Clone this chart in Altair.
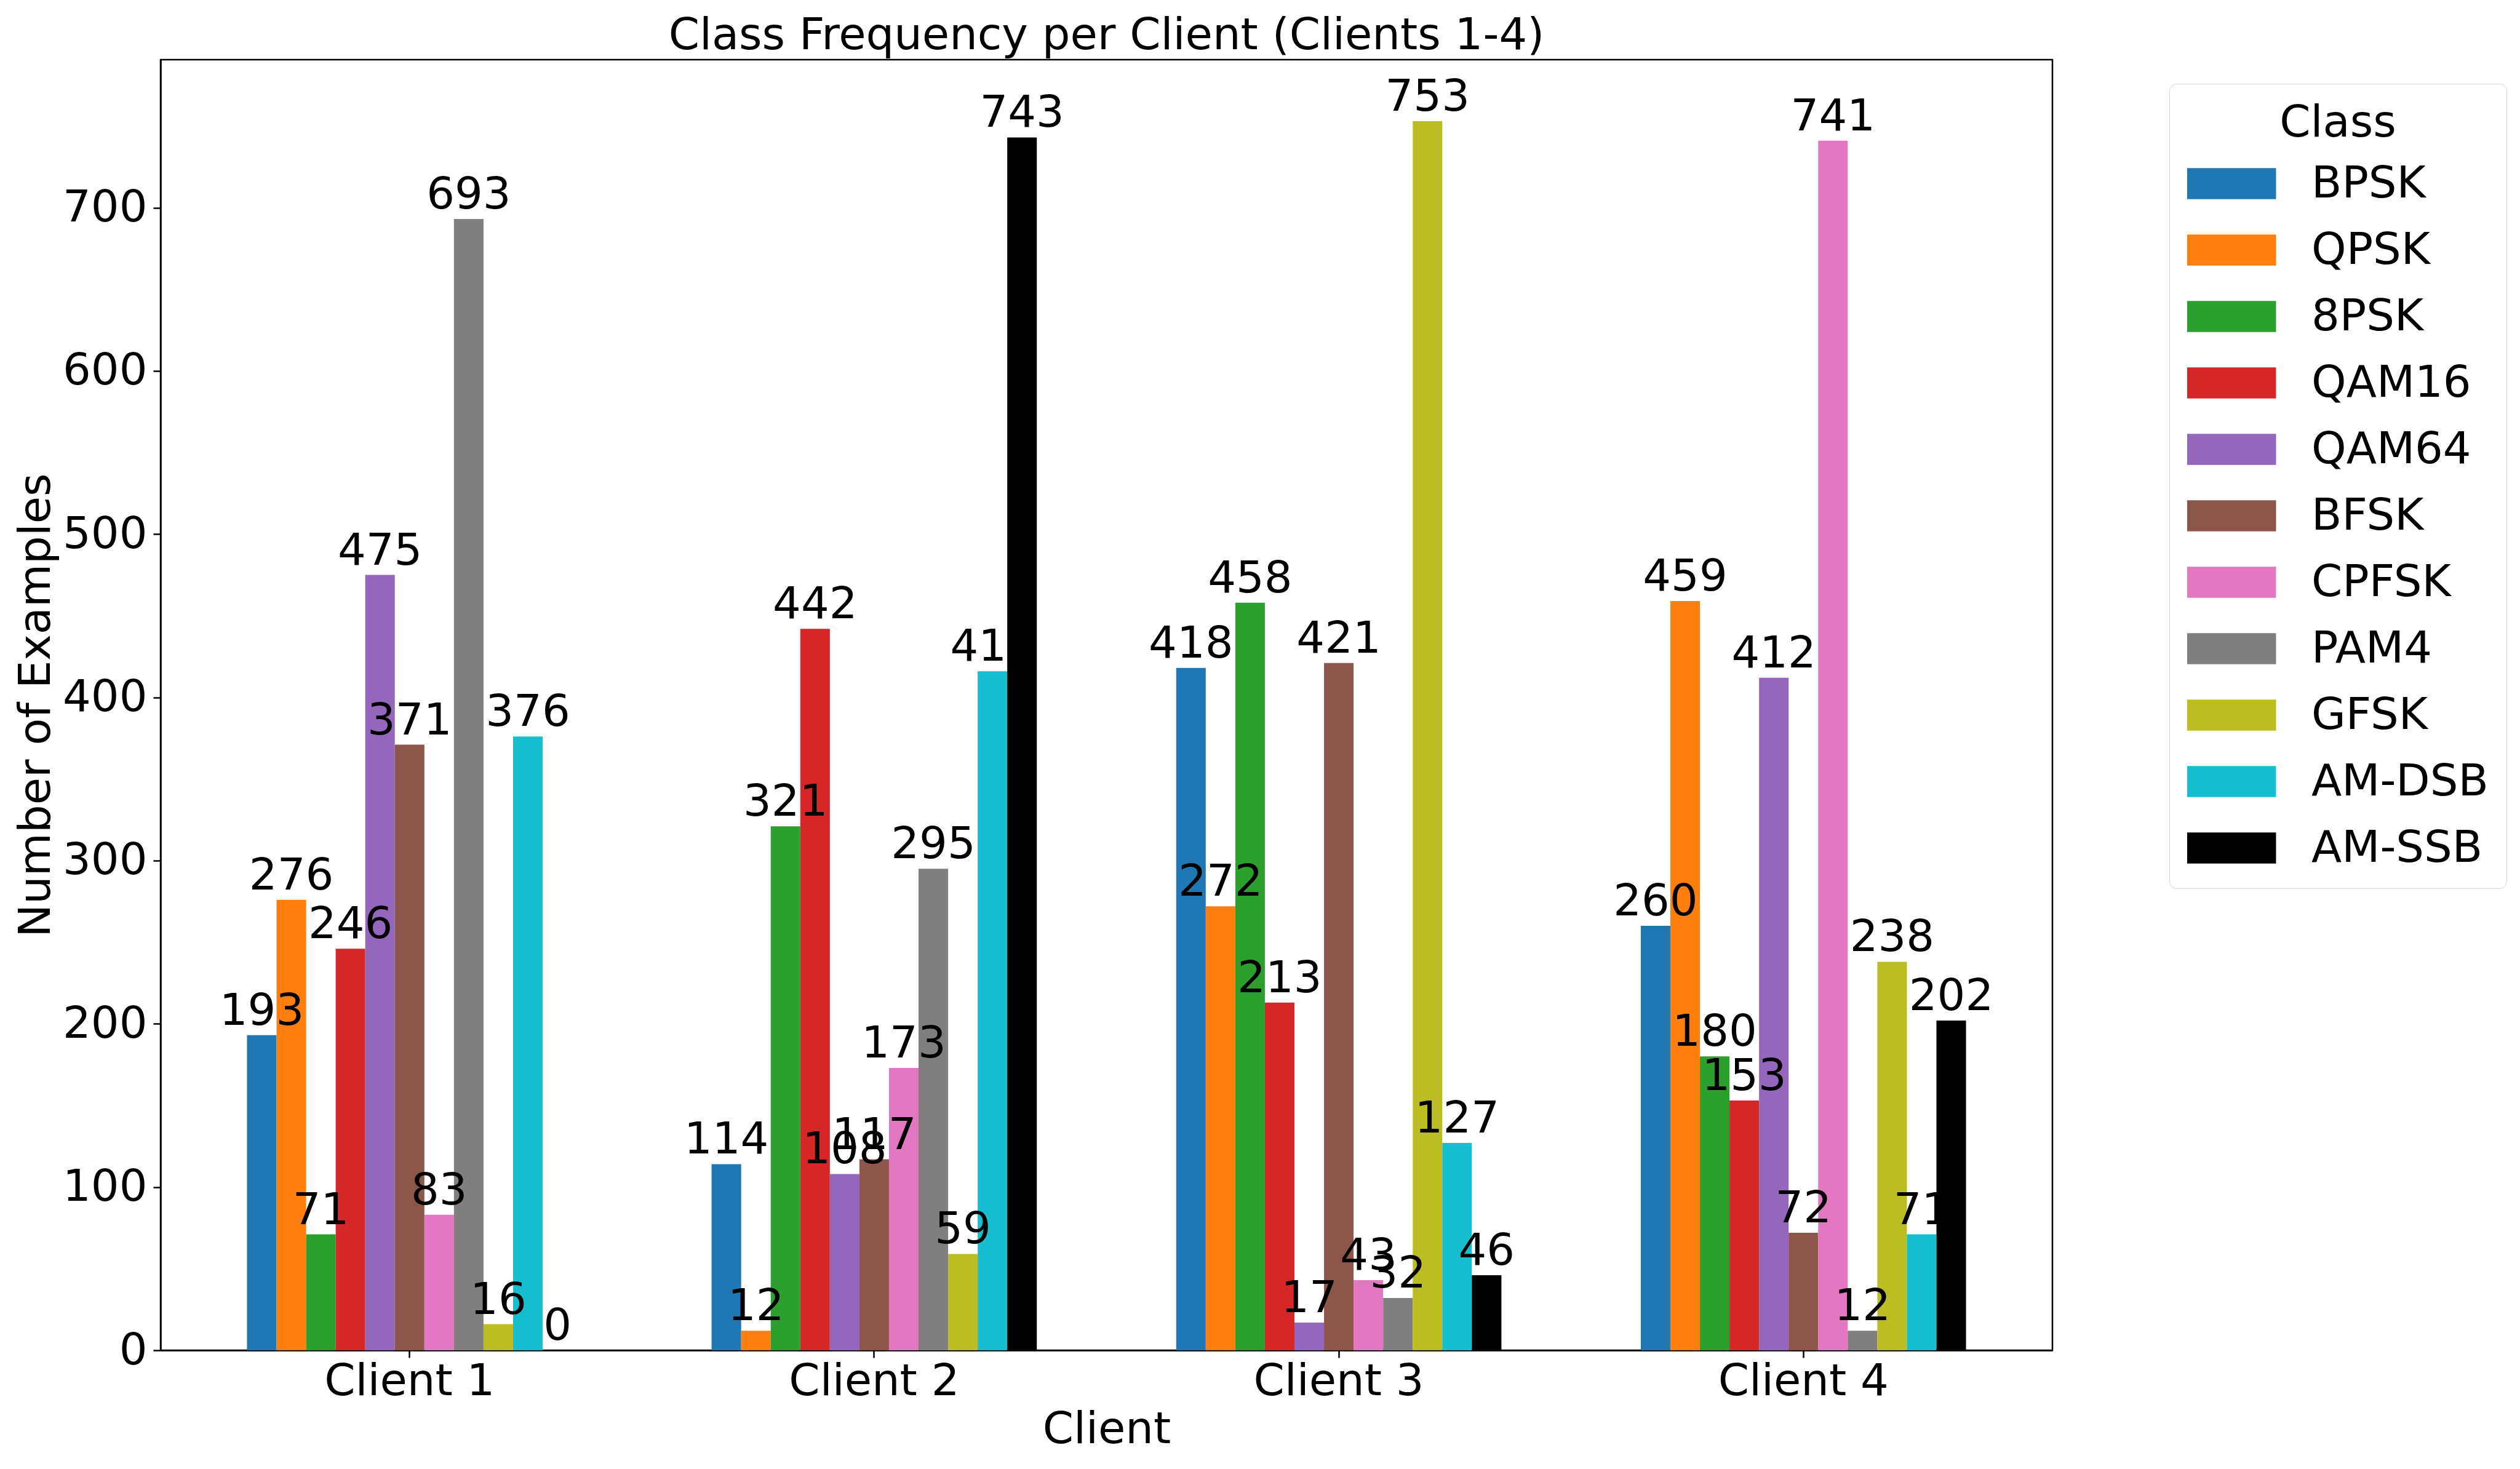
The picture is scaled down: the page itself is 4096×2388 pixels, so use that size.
import altair as alt
import pandas as pd

clients = ["Client 1", "Client 2", "Client 3", "Client 4"]
classes = ["BPSK", "QPSK", "8PSK", "QAM16", "QAM64", "BFSK", "CPFSK",
           "PAM4", "GFSK", "AM-DSB", "AM-SSB"]
colors = ["#1f77b4", "#ff7f0e", "#2ca02c", "#d62728", "#9467bd", "#8c564b",
          "#e377c2", "#7f7f7f", "#bcbd22", "#17becf", "#000000"]

client1 = [193, 276, 71, 246, 475, 371, 83, 693, 16, 376, 0]
client2 = [114, 12, 321, 442, 108, 117, 173, 295, 59, 416, 743]
client3 = [418, 272, 458, 213, 17, 421, 43, 32, 753, 127, 46]
client4 = [260, 459, 180, 153, 412, 72, 741, 12, 238, 71, 202]

y_ticks = [0, 100, 200, 300, 400, 500, 600, 700]

rows = []
for cl, vals in zip(clients, [client1, client2, client3, client4]):
    for k, v in zip(classes, vals):
        rows.append({"Client": cl, "Class": k, "Count": v})
df = pd.DataFrame(rows)

FONT = "DejaVu Sans"
FS = 72

x_enc = alt.X(
    "Client:N", sort=clients,
    scale=alt.Scale(domain=clients, paddingInner=0.3, paddingOuter=0.186),
    axis=alt.Axis(labelAngle=0, labelFontSize=FS, labelFont=FONT, labelColor="black",
                  labelBaseline="alphabetic", labelPadding=60, labelLimit=2000,
                  tickSize=12, tickWidth=2.5, tickColor="black",
                  domainColor="black", domainWidth=2.5,
                  titleFontSize=FS, titleFont=FONT, titleFontWeight="normal",
                  titleColor="black", titleBaseline="alphabetic", titleY=150,
                  titleLimit=2000),
    title="Client")
xo_enc = alt.XOffset("Class:N", sort=classes,
                     scale=alt.Scale(domain=classes, paddingInner=0, paddingOuter=0))
y_enc = alt.Y(
    "Count:Q",
    scale=alt.Scale(domain=[0, 790.65], nice=False, zero=True),
    axis=alt.Axis(values=y_ticks, grid=False, labelFontSize=FS, labelFont=FONT,
                  labelColor="black", labelPadding=10, labelLimit=2000,
                  tickSize=12, tickWidth=2.5, tickColor="black",
                  domainColor="black", domainWidth=2.5,
                  titleFontSize=FS, titleFont=FONT, titleFontWeight="normal",
                  titleColor="black", titleBaseline="alphabetic", titleX=-181,
                  titleLimit=3000),
    title="Number of Examples")
legend = alt.Legend(
    title="Class", orient="none", legendX=3265, legendY=39, direction="vertical",
    titleFontSize=FS, titleFont=FONT, titleFontWeight="normal", titleColor="black",
    titleAnchor="middle", titlePadding=8, titleLimit=2000,
    labelFontSize=FS, labelFont=FONT, labelColor="black", labelOffset=95, labelLimit=2000,
    symbolType="M-1,-0.47H1.7V0.47H-1Z", symbolSize=11449, symbolStrokeWidth=0,
    symbolOpacity=1, rowPadding=18, padding=29,
    strokeColor="#d6d6d6", fillColor="white", cornerRadius=12)
color_enc = alt.Color("Class:N", sort=classes,
                      scale=alt.Scale(domain=classes, range=colors), legend=legend)

last = classes[-1]
bars_main = alt.Chart().mark_bar(opacity=1, strokeWidth=0).encode(
    x=x_enc, xOffset=xo_enc, y=y_enc, color=color_enc
).transform_filter(alt.datum.Class != last)
labels = alt.Chart().mark_text(
    fontSize=FS, font=FONT, color="black", baseline="alphabetic", dy=-17, align="center"
).encode(
    x=x_enc, xOffset=xo_enc, y=y_enc, text=alt.Text("Count:Q")
)
bars_last = alt.Chart().mark_bar(opacity=1, strokeWidth=0).encode(
    x=x_enc, xOffset=xo_enc, y=y_enc, color=color_enc
).transform_filter(alt.datum.Class == last)

chart = alt.layer(bars_main, labels, bars_last, data=df).properties(
    width=3075, height=2098,
    title=alt.TitleParams("Class Frequency per Client (Clients 1-4)", fontSize=FS, font=FONT,
                          fontWeight="normal", color="black", anchor="middle",
                          offset=2, limit=4000),
    autosize=alt.AutoSizeParams(type="none"),
    padding={"left": 253, "top": 89, "right": 752, "bottom": 185},
    background="white",
).configure_view(stroke="black", strokeWidth=2.5)

chart.save("out.html", embed_options={"renderer": "svg", "actions": False})
